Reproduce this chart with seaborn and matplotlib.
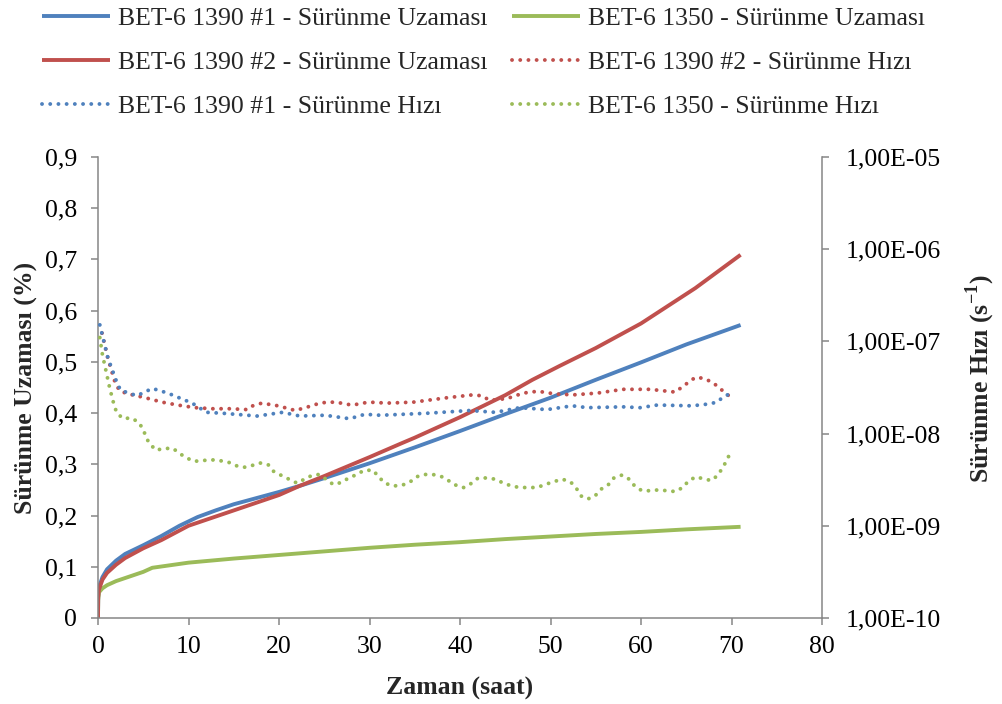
import matplotlib.pyplot as plt
import seaborn as sns
from matplotlib.ticker import FixedLocator, FuncFormatter, NullLocator

# creep strain (%) vs time (h), left axis
uzama_1390_1_t = [0, 0.02, 0.1, 0.5, 1, 2, 3, 5, 7, 9, 11, 13, 15, 20, 22.3, 25, 30,
                  35, 40, 45, 50, 55, 60, 65, 71]
uzama_1390_1 = [0, 0.04, 0.06, 0.08, 0.095, 0.112, 0.125, 0.142, 0.16, 0.18, 0.197,
                0.21, 0.222, 0.246, 0.258, 0.273, 0.302, 0.333, 0.365, 0.398, 0.43,
                0.465, 0.499, 0.534, 0.572]

uzama_1390_2_t = [0, 0.02, 0.1, 0.5, 1, 2, 3, 5, 7, 10, 15, 20, 22.3, 25, 30, 33.4,
                  35, 40, 45, 48, 51, 55, 60, 66, 68, 71]
uzama_1390_2 = [0, 0.04, 0.055, 0.075, 0.088, 0.104, 0.117, 0.136, 0.152, 0.18, 0.21,
                0.24, 0.258, 0.277, 0.314, 0.34, 0.352, 0.392, 0.435, 0.465, 0.492,
                0.527, 0.575, 0.644, 0.67, 0.709]

uzama_1350_t = [0, 0.02, 0.1, 0.5, 1, 2, 3, 4, 5, 6, 8, 10, 15, 20, 25, 30, 35, 40,
                45, 50, 55, 60, 65, 71]
uzama_1350 = [0, 0.035, 0.05, 0.058, 0.064, 0.072, 0.078, 0.084, 0.09, 0.098, 0.103,
              0.108, 0.116, 0.123, 0.13, 0.137, 0.143, 0.148, 0.154, 0.159, 0.164,
              0.168, 0.173, 0.178]

# creep rate (1/s) vs time (h), right axis
hiz_1390_1_t = [0.2, 1.1, 2.1, 2.5, 4.3, 6.0, 7.7, 10.4, 12.0, 13.8, 17.6, 20.4, 22.3,
                25.1, 27.8, 29.5, 31.2, 36.3, 41.1, 43.9, 46.6, 49.6, 52.4, 54.1, 58.0,
                59.9, 61.8, 65.6, 67.4, 68.4, 69.1, 70.0]
hiz_1390_1 = [1.51e-7, 6.6e-8, 3.55e-8, 2.95e-8, 2.57e-8, 3.09e-8, 2.75e-8, 2.14e-8,
              1.70e-8, 1.66e-8, 1.55e-8, 1.70e-8, 1.55e-8, 1.58e-8, 1.45e-8, 1.62e-8,
              1.58e-8, 1.66e-8, 1.78e-8, 1.70e-8, 1.91e-8, 1.82e-8, 2.00e-8, 1.91e-8,
              1.95e-8, 1.91e-8, 2.04e-8, 2.00e-8, 2.09e-8, 2.19e-8, 2.51e-8, 2.75e-8]

hiz_1390_2_t = [0.44, 1.1, 1.9, 2.4, 3.3, 5.2, 7.1, 8.8, 10.7, 12.7, 14.6, 16.5, 17.1,
                18.1, 19.9, 21.8, 23.6, 24.5, 25.4, 26.4, 27.3, 28.2, 29.2, 30.1, 31.9,
                34.8, 38.6, 41.4, 42.4, 43.3, 45.2, 47.0, 48.6, 50.5, 52.5, 55.2, 58.0,
                61.0, 62.9, 63.8, 64.6, 66.0, 66.9, 67.8, 68.5, 69.3, 70.0]
hiz_1390_2 = [1.23e-7, 6.5e-8, 3.55e-8, 2.9e-8, 2.7e-8, 2.45e-8, 2.19e-8, 2.04e-8,
              1.91e-8, 1.86e-8, 1.86e-8, 1.82e-8, 2.0e-8, 2.14e-8, 2.0e-8, 1.78e-8,
              2.0e-8, 2.14e-8, 2.19e-8, 2.19e-8, 2.09e-8, 2.04e-8, 2.14e-8, 2.19e-8,
              2.14e-8, 2.19e-8, 2.45e-8, 2.63e-8, 2.57e-8, 2.29e-8, 2.40e-8, 2.75e-8,
              2.88e-8, 2.69e-8, 2.63e-8, 2.75e-8, 3.02e-8, 3.02e-8, 2.88e-8, 2.82e-8,
              3.24e-8, 4.07e-8, 3.98e-8, 3.63e-8, 3.24e-8, 2.75e-8, 2.45e-8]

hiz_1350_t = [0.2, 0.5, 0.9, 1.3, 1.8, 2.1, 2.8, 3.6, 4.4, 5.0,
              5.3, 5.7, 6.4, 7.3, 8.3, 8.9, 9.7, 10.6, 11.6, 12.5,
              13.4, 14.4, 15.2, 16.1, 17.0, 17.9, 18.8, 19.4, 20.3, 21.1,
              22.0, 22.8, 23.6, 24.4, 25.2, 26.0, 26.9, 27.7, 28.6, 29.4,
              30.4, 31.0, 31.7, 32.6, 33.6, 34.5, 35.2, 36.1, 37.0, 38.0,
              38.7, 39.7, 40.4, 41.3, 42.0, 43.0, 43.9, 44.8, 45.7, 46.6,
              47.5, 48.5, 49.4, 50.3, 51.3, 52.2, 52.8, 53.4, 54.1, 54.9,
              55.6, 56.4, 57.0, 57.9, 58.7, 59.3, 60.1, 61.0, 61.9, 62.9,
              63.8, 64.6, 65.3, 66.1, 67.0, 67.8, 68.5, 69.1, 69.5, 69.9]
hiz_1350 = [1.10e-7, 7.1e-8, 4.7e-8, 3.1e-8, 2.0e-8, 1.66e-8, 1.45e-8, 1.48e-8, 1.35e-8, 1.12e-8,
            9.1e-9, 7.8e-9, 6.6e-9, 6.9e-9, 6.9e-9, 6.2e-9, 5.5e-9, 5.0e-9, 5.1e-9, 5.2e-9,
            5.1e-9, 4.9e-9, 4.5e-9, 4.3e-9, 4.5e-9, 4.8e-9, 4.6e-9, 3.9e-9, 3.5e-9, 3.2e-9,
            2.9e-9, 3.2e-9, 3.5e-9, 3.6e-9, 3.2e-9, 2.8e-9, 2.95e-9, 3.3e-9, 3.6e-9, 4.0e-9,
            4.0e-9, 3.4e-9, 2.9e-9, 2.7e-9, 2.75e-9, 3.0e-9, 3.4e-9, 3.6e-9, 3.6e-9, 3.4e-9,
            3.1e-9, 2.7e-9, 2.6e-9, 2.9e-9, 3.3e-9, 3.3e-9, 3.2e-9, 2.9e-9, 2.7e-9, 2.6e-9,
            2.6e-9, 2.6e-9, 2.8e-9, 3.0e-9, 3.2e-9, 3.0e-9, 2.6e-9, 2.1e-9, 1.95e-9, 2.1e-9,
            2.5e-9, 2.8e-9, 3.3e-9, 3.55e-9, 3.2e-9, 2.7e-9, 2.4e-9, 2.4e-9, 2.45e-9, 2.4e-9,
            2.35e-9, 2.6e-9, 3.1e-9, 3.4e-9, 3.2e-9, 3.1e-9, 3.55e-9, 4.4e-9, 5.2e-9, 6.3e-9]

x_ticks = [0, 10, 20, 30, 40, 50, 60, 70, 80]
y_ticks = [0, 0.1, 0.2, 0.3, 0.4, 0.5, 0.6, 0.7, 0.8, 0.9]
y2_ticks = [1e-10, 1e-9, 1e-8, 1e-7, 1e-6, 1e-5]

BLUE = "#4F81BD"
RED = "#C0504D"
GREEN = "#9BBB59"
GRAY = "#868686"
FS = 18.5
DOT = (0, (0.01, 2.1))

sns.set_style("white")
plt.rcParams["font.family"] = ["Liberation Serif", "DejaVu Serif"]
plt.rcParams["mathtext.fontset"] = "custom"
plt.rcParams["mathtext.rm"] = "Liberation Serif"
plt.rcParams["mathtext.bf"] = "Liberation Serif:bold"

fig = plt.figure(figsize=(10.02, 7.04), dpi=100)
ax = fig.add_axes([0.0978, 0.1222, 0.7226, 0.6548])
ax2 = ax.twinx()

solid = dict(lw=2.8, legend=False, solid_capstyle="butt")
sns.lineplot(x=uzama_1390_1_t, y=uzama_1390_1, ax=ax, color=BLUE,
             label="BET-6 1390 #1 - Sürünme Uzaması", **solid)
sns.lineplot(x=uzama_1350_t, y=uzama_1350, ax=ax, color=GREEN,
             label="BET-6 1350 - Sürünme Uzaması", **solid)
sns.lineplot(x=uzama_1390_2_t, y=uzama_1390_2, ax=ax, color=RED,
             label="BET-6 1390 #2 - Sürünme Uzaması", **solid)

dotted = dict(lw=2.8, legend=False, linestyle=DOT, dash_capstyle="round")
sns.lineplot(x=hiz_1390_2_t, y=hiz_1390_2, ax=ax2, color=RED,
             label="BET-6 1390 #2 - Sürünme Hızı", **dotted)
sns.lineplot(x=hiz_1390_1_t, y=hiz_1390_1, ax=ax2, color=BLUE,
             label="BET-6 1390 #1 - Sürünme Hızı", **dotted)
sns.lineplot(x=hiz_1350_t, y=hiz_1350, ax=ax2, color=GREEN,
             label="BET-6 1350 - Sürünme Hızı", **dotted)

# left axis
ax.set_xlim(0, 80)
ax.set_ylim(0, 0.9)
ax.xaxis.set_major_locator(FixedLocator(x_ticks))
ax.yaxis.set_major_locator(FixedLocator(y_ticks))
ax.yaxis.set_major_formatter(FuncFormatter(
    lambda v, p: "0" if abs(v) < 1e-9 else f"{v:.1f}".replace(".", ",")))
ax.tick_params(axis="both", which="major", direction="out", length=5, width=1.1,
               color=GRAY, labelsize=FS, labelcolor="black", bottom=True, left=True)
ax.tick_params(axis="y", pad=10)
ax.tick_params(axis="x", pad=8)
for side in ("top", "right"):
    ax.spines[side].set_visible(False)
for side in ("left", "bottom"):
    ax.spines[side].set_color(GRAY)
    ax.spines[side].set_linewidth(1.1)

ax.set_xlabel("Zaman (saat)", fontsize=FS, fontweight="bold")
ax.set_ylabel("Sürünme Uzaması (%)", fontsize=FS, fontweight="bold")
ax.xaxis.set_label_coords(0.5, -0.127)
ax.yaxis.set_label_coords(-0.083, 0.5)

# right axis
ax2.set_yscale("log")
ax2.set_ylim(1e-10, 1e-5)
ax2.yaxis.set_major_locator(FixedLocator(y2_ticks))
ax2.yaxis.set_minor_locator(NullLocator())
ax2.yaxis.set_major_formatter(FuncFormatter(
    lambda v, p: f"{v:.2E}".replace(".", ",")))
ax2.tick_params(axis="y", which="major", direction="out", length=5, width=1.1,
                color=GRAY, labelsize=FS, labelcolor="black", right=True, left=False,
                pad=12)
for side in ("top", "left", "bottom"):
    ax2.spines[side].set_visible(False)
ax2.spines["right"].set_color(GRAY)
ax2.spines["right"].set_linewidth(1.1)
ax2.set_ylabel(r"Sürünme Hızı (s$^{\mathbf{-1}}$)", fontsize=FS, fontweight="bold")
ax2.yaxis.set_label_coords(1.196, 0.52)

# legend: Excel-style, 3 rows x 2 columns above the plot
h1, l1 = ax.get_legend_handles_labels()
h2, l2 = ax2.get_legend_handles_labels()
handles = dict(zip(l1 + l2, h1 + h2))
order = [
    "BET-6 1390 #1 - Sürünme Uzaması",
    "BET-6 1390 #2 - Sürünme Uzaması",
    "BET-6 1390 #1 - Sürünme Hızı",
    "BET-6 1350 - Sürünme Uzaması",
    "BET-6 1390 #2 - Sürünme Hızı",
    "BET-6 1350 - Sürünme Hızı",
]
fig.legend([handles[k] for k in order], order, ncol=2, loc="upper left",
           bbox_to_anchor=(0.042, 0.990), frameon=False, borderpad=0,
           fontsize=FS, handlelength=2.65, handletextpad=0.31,
           columnspacing=0.95, labelspacing=0.82, borderaxespad=0)

fig.savefig("out.png", dpi=100)
